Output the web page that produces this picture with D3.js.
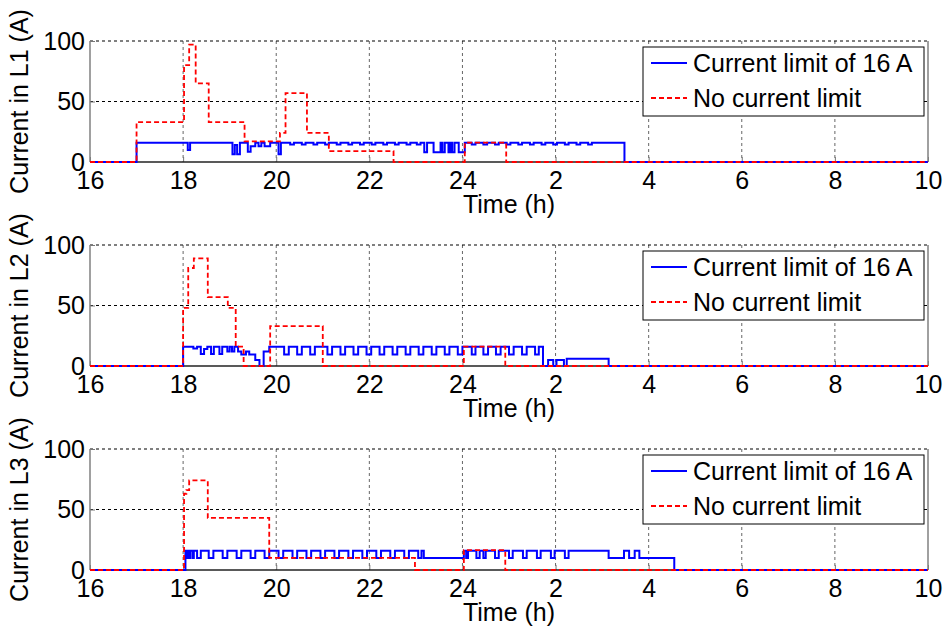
<!DOCTYPE html>
<html><head><meta charset="utf-8">
<script src="https://cdn.jsdelivr.net/npm/d3@7"></script>
<style>body{margin:0;background:#fff} text{font-family:"Liberation Sans",Arial,sans-serif;fill:#000}</style>
</head><body><svg id="c" width="944" height="630"></svg>
<script>
// ---- data (time in hours; values after 24 are next-day hours + 24) ----
const xTicks = [16,18,20,22,24,26,28,30,32,34];
const xTickLabels = ["16","18","20","22","24","2","4","6","8","10"];
const yTicks = [0,50,100];
const phaseNames = ["L1","L2","L3"];
const seriesNames = ["Current limit of 16 A","No current limit"];

const l1Limited = [[16,0],[17.0,16],[18.1,10],[18.15,16],
 [19.06,6.5],[19.11,14],[19.16,6.5],[19.22,16],[19.39,8.5],[19.45,13],[19.55,16],[19.62,13],[19.68,16],[19.75,13],[19.87,16],[20.05,6.5],[20.1,16],
 [20.3,14.5],[20.38,16],[20.55,14.5],[20.63,16],[20.8,14.5],[20.88,16],[21.05,14.5],[21.13,16],[21.3,14.5],[21.38,16],[21.55,14.5],[21.63,16],
 [21.8,14.5],[21.88,16],[22.05,14.5],[22.13,16],[22.3,14.5],[22.38,16],[22.55,14.5],[22.63,16],[22.8,14.5],[22.88,16],[23.02,14.5],[23.1,16],
 [23.18,8],[23.24,16],[23.38,8],[23.53,16],[23.57,8],[23.62,16],[23.7,8],[23.74,16],[23.78,8],[23.83,16],[23.92,8],[24.05,16],
 [24.2,14.5],[24.28,16],[24.45,14.5],[24.53,16],[24.7,14.5],[24.78,16],[24.95,14.5],[25.03,16],[25.2,14.5],[25.28,16],[25.45,14.5],[25.53,16],
 [25.7,14.5],[25.78,16],[25.95,14.5],[26.03,16],[26.2,14.5],[26.28,16],[26.45,14.5],[26.53,16],[26.7,14.5],[26.78,16],
 [27.48,0],[34,0]];
const l1NoLimit = [[16,0],[17.0,33],[18.02,80],[18.13,97],[18.27,65],[18.55,33],[19.32,17],[20.08,24],[20.2,57],[20.66,24],[21.13,9],[22.52,0],[24.05,16],[24.94,0],[34,0]];

const l2Limited = [[16,0],[18.0,16],[18.22,14.5],[18.3,16],[18.38,10],[18.45,14],[18.52,16],[18.6,10],[18.66,16],[18.78,10],[18.84,16],
 [18.95,12],[19.0,16],[19.05,12],[19.1,16],[19.18,12],[19.25,9.5],[19.35,12],[19.42,9.5],[19.55,5],[19.64,0],[19.73,12],[19.85,16],
 [20.17,9.5],[20.27,16],[20.45,9.5],[20.55,16],[20.73,9.5],[20.83,16],[21.1,9.5],[21.2,16],[21.38,9.5],[21.48,16],[21.66,9.5],[21.76,16],
 [21.94,9.5],[22.04,16],[22.22,9.5],[22.32,16],[22.5,9.5],[22.6,16],[22.78,9.5],[22.88,16],[23.06,9.5],[23.16,16],[23.34,9.5],[23.44,16],
 [23.62,9.5],[23.72,16],[23.9,9.5],[24.0,16],[24.2,9.5],[24.28,16],[24.45,9.5],[24.55,16],[24.72,9.5],[24.82,16],[25.0,9.5],[25.1,16],
 [25.28,9.5],[25.38,16],[25.56,9.5],[25.64,16],[25.73,0],[25.84,5],[25.95,0],[26.02,5],[26.18,0],[26.24,6],[27.14,0],[34,0]];
const l2NoLimit = [[16,0],[18.0,48],[18.11,81],[18.23,89],[18.53,57],[18.96,48],[19.13,16],[19.3,0],[19.87,33],[21.0,0],[24.03,16],[24.92,0],[34,0]];

const l3Limited = [[16,0],[18.05,16],[18.08,10],[18.1,16],[18.13,10],[18.15,16],[18.2,10],[18.23,16],[18.3,10],[18.38,16],[18.55,10],[18.65,16],
 [18.85,10],[18.95,16],[19.15,10],[19.25,16],[19.45,10],[19.55,16],[19.75,10],[19.85,16],[20.05,10],[20.15,16],[20.35,10],[20.45,16],
 [20.65,10],[20.75,16],[20.95,10],[21.05,16],[21.25,10],[21.35,16],[21.55,10],[21.65,16],[21.85,10],[21.95,16],[22.15,10],[22.25,16],
 [22.45,10],[22.55,16],[22.75,10],[22.85,16],[23.05,10],[23.12,16],[23.17,10],[24.03,16],[24.08,10],[24.12,16],[24.3,10],[24.37,16],
 [24.45,10],[24.5,16],[24.7,10],[24.78,16],[25.0,10],[25.08,16],[25.3,10],[25.38,16],[25.6,10],[25.68,16],[25.9,10],[25.98,16],
 [26.2,10],[26.28,16],[27.14,10],[27.47,16],[27.58,10],[27.7,16],[27.8,10],[28.55,0],[34,0]];
const l3NoLimit = [[16,0],[18.02,63],[18.07,66],[18.13,74],[18.53,43],[19.85,10],[22.98,0],[24.03,16.5],[24.92,0],[34,0]];

const limitedSeries = [l1Limited, l2Limited, l3Limited];
const noLimitSeries = [l1NoLimit, l2NoLimit, l3NoLimit];

// ---- drawing ----
const svg = d3.select("#c");
const x = d3.scaleLinear().domain([16,34]).range([90,928]);
const FS = 25;

phaseNames.forEach((ph, i) => {
  const top = 41 + 204*i, bottom = top + 121;
  const y = d3.scaleLinear().domain([0,100]).range([bottom, top]);
  const g = svg.append("g");

  // grid
  g.selectAll(".vg").data(xTicks.slice(1,-1)).enter().append("line")
    .attr("x1", d=>x(d)).attr("x2", d=>x(d)).attr("y1", top).attr("y2", bottom)
    .attr("stroke", "#666").attr("stroke-width", 1).attr("stroke-dasharray", "3,3");
  g.selectAll(".hg").data(yTicks.slice(1)).enter().append("line")
    .attr("x1", x(16)).attr("x2", x(34)).attr("y1", d=>y(d)).attr("y2", d=>y(d))
    .attr("stroke", "#000").attr("stroke-width", 1).attr("stroke-dasharray", "3,3");

  // axes
  const xa = g.append("g").attr("transform", `translate(0,${bottom})`)
    .call(d3.axisBottom(x).tickValues(xTicks).tickFormat((d,k)=>xTickLabels[k]).tickSizeInner(-5).tickSizeOuter(0).tickPadding(9));
  const ya = g.append("g").attr("transform", `translate(${x(16)},0)`)
    .call(d3.axisLeft(y).tickValues(yTicks).tickSizeInner(-5).tickSizeOuter(0).tickPadding(5));
  [xa, ya].forEach(a => {
    a.select(".domain").remove();
    a.selectAll(".tick line").attr("stroke", "#777");
    a.selectAll("text").attr("font-size", FS).attr("font-family", "Liberation Sans, Arial, sans-serif").attr("fill", "#000");
  });

  // box edges
  g.append("line").attr("x1", x(16)).attr("x2", x(16)).attr("y1", top).attr("y2", bottom).attr("stroke", "#808080").attr("stroke-width", 1.5);
  g.append("line").attr("x1", x(34)).attr("x2", x(34)).attr("y1", top).attr("y2", bottom).attr("stroke", "#808080").attr("stroke-width", 1.5);
  g.append("line").attr("x1", x(16)).attr("x2", x(34)).attr("y1", bottom).attr("y2", bottom).attr("stroke", "#222").attr("stroke-width", 1.5);

  // series
  const line = d3.line().x(d=>x(d[0])).y(d=>y(d[1])).curve(d3.curveStepAfter);
  g.append("path").datum(limitedSeries[i]).attr("d", line)
    .attr("fill", "none").attr("stroke", "#0000ff").attr("stroke-width", 2);
  g.append("path").datum(noLimitSeries[i]).attr("d", line)
    .attr("fill", "none").attr("stroke", "#ff0000").attr("stroke-width", 1.8).attr("stroke-dasharray", "5,3");

  // labels
  g.append("text").attr("x", (x(16)+x(34))/2).attr("y", bottom + 51)
    .attr("text-anchor", "middle").attr("font-size", FS).text("Time (h)");
  g.append("text").attr("transform", `translate(28,${(top+bottom)/2}) rotate(-90)`)
    .attr("text-anchor", "middle").attr("font-size", FS).text(`Current in ${ph} (A)`);

  // legend
  const lg = g.append("g").attr("transform", `translate(643,${top+6})`);
  lg.append("rect").attr("width", 281).attr("height", 69).attr("fill", "#fff").attr("stroke", "#000").attr("stroke-width", 1);
  const styles = [{c:"#0000ff", d:null, w:2}, {c:"#ff0000", d:"5,3", w:1.8}];
  seriesNames.forEach((nm, k) => {
    const ry = 16 + 35*k;
    lg.append("line").attr("x1", 8).attr("x2", 44).attr("y1", ry).attr("y2", ry)
      .attr("stroke", styles[k].c).attr("stroke-width", styles[k].w).attr("stroke-dasharray", styles[k].d);
    lg.append("text").attr("x", 50).attr("y", ry + 9).attr("font-size", FS).text(nm);
  });
});
</script></body></html>
